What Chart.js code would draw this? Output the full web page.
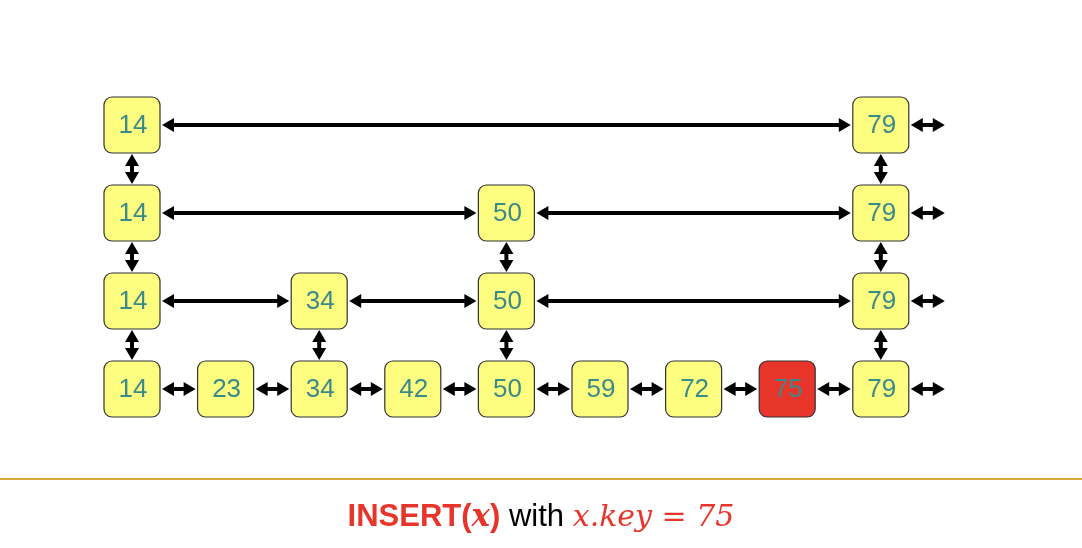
<!DOCTYPE html>
<html><head><meta charset="utf-8">
<script src="https://cdn.jsdelivr.net/npm/chart.js@4"></script>
<style>html,body{margin:0;padding:0;background:#fff;overflow:hidden}#wrap{position:relative;width:1082px;height:548px}</style>
</head><body><div id="wrap"><canvas id="c" width="1082" height="548"></canvas></div>
<script>
const keys = [14, 23, 34, 42, 50, 59, 72, 75, 79];
const levels = [4, 1, 2, 1, 3, 1, 1, 1, 4];
const insertedKey = 75;
const caption = ["INSERT(", "x", ")", " with ", "x.key = 75"];

const points = [];
keys.forEach((k, i) => { for (let l = 0; l < levels[i]; l++) points.push({x: i, y: l, key: k}); });

const S = 93.6, V = 88;
const skipPlugin = {
  id: 'skip',
  afterDatasetsDraw(chart) {
    const ctx = chart.ctx, xs = chart.scales.x, ys = chart.scales.y;
    const half = 28;
    function head(x, y, dx, dy) {
      const L = 12, W = 7;
      const px = -dy, py = dx;
      ctx.beginPath();
      ctx.moveTo(x, y);
      ctx.lineTo(x - dx * L + px * W, y - dy * L + py * W);
      ctx.lineTo(x - dx * L - px * W, y - dy * L - py * W);
      ctx.closePath(); ctx.fill();
    }
    function dbl(x1, y1, x2, y2) {
      const len = Math.hypot(x2 - x1, y2 - y1), dx = (x2 - x1) / len, dy = (y2 - y1) / len;
      ctx.strokeStyle = '#000'; ctx.fillStyle = '#000'; ctx.lineWidth = 4;
      ctx.beginPath(); ctx.moveTo(x1 + dx * 8, y1 + dy * 8); ctx.lineTo(x2 - dx * 8, y2 - dy * 8); ctx.stroke();
      head(x2, y2, dx, dy); head(x1, y1, -dx, -dy);
    }
    const maxL = Math.max(...levels);
    for (let l = 0; l < maxL; l++) {
      const idx = keys.map((k, i) => i).filter(i => levels[i] > l);
      const y = ys.getPixelForValue(l);
      for (let j = 0; j + 1 < idx.length; j++) {
        dbl(xs.getPixelForValue(idx[j]) + half + 2, y, xs.getPixelForValue(idx[j + 1]) - half - 2, y);
      }
      const last = xs.getPixelForValue(idx[idx.length - 1]);
      dbl(last + half + 2, y, last + half + 36, y);
    }
    keys.forEach((k, i) => {
      for (let l = 0; l + 1 < levels[i]; l++) {
        const x = xs.getPixelForValue(i);
        dbl(x, ys.getPixelForValue(l) - half - 1, x, ys.getPixelForValue(l + 1) + half + 1);
      }
    });
    points.forEach(p => {
      const x = xs.getPixelForValue(p.x), y = ys.getPixelForValue(p.y);
      ctx.beginPath();
      ctx.roundRect(x - half, y - half, 2 * half, 2 * half, 8);
      ctx.fillStyle = p.key === insertedKey ? '#e8352b' : '#fdfd80';
      ctx.fill(); ctx.lineWidth = 1.2; ctx.strokeStyle = '#333'; ctx.stroke();
      ctx.fillStyle = '#3b8a8a'; ctx.font = '26px "Liberation Sans", Arial, sans-serif';
      ctx.textAlign = 'center'; ctx.textBaseline = 'middle';
      ctx.fillText(String(p.key), x + 1, y + 1);
    });
    // separator and caption
    ctx.strokeStyle = '#d4a83a'; ctx.lineWidth = 2;
    ctx.beginPath(); ctx.moveTo(0, 479); ctx.lineTo(1082, 479); ctx.stroke();
    const fonts = ['bold 31px "Liberation Sans", Arial', 'bold italic 31px "DejaVu Serif", serif', 'bold 31px "Liberation Sans", Arial', '31px "Liberation Sans", Arial', 'italic 30px "DejaVu Serif", serif'];
    const colors = ['#e8352b', '#e8352b', '#e8352b', '#000', '#e8352b'];
    let w = 0; caption.forEach((t, i) => { ctx.font = fonts[i]; w += ctx.measureText(t).width; });
    let cx = 541 - w / 2;
    ctx.textAlign = 'left'; ctx.textBaseline = 'alphabetic';
    caption.forEach((t, i) => { ctx.font = fonts[i]; ctx.fillStyle = colors[i]; ctx.fillText(t, cx, 526); cx += ctx.measureText(t).width; });
  }
};

new Chart(document.getElementById('c'), {
  type: 'scatter',
  data: { datasets: [{ data: points, pointRadius: 0, pointHoverRadius: 0 }] },
  options: {
    responsive: false, animation: false, events: [],
    layout: { padding: 0 },
    plugins: { legend: { display: false }, tooltip: { enabled: false } },
    scales: {
      x: { type: 'linear', display: false, min: -132 / S, max: (1082 - 132) / S },
      y: { type: 'linear', display: false, min: -(548 - 389) / V, max: 3 + 125 / V }
    }
  },
  plugins: [skipPlugin]
});
</script></body></html>
